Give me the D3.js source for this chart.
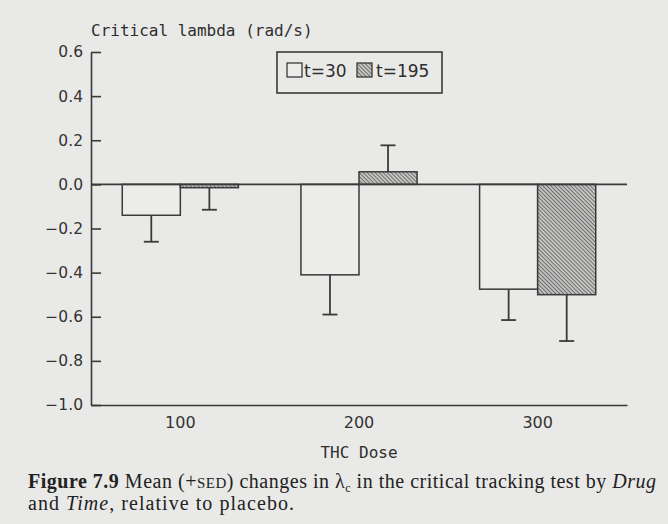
<!DOCTYPE html>
<html><head><meta charset="utf-8">
<script src="https://cdn.jsdelivr.net/npm/d3@7"></script>
<style>
html,body{margin:0;padding:0;background:#e9e9e7;}
svg{display:block;}
</style></head>
<body>
<svg id="chart" width="668" height="524"></svg>
<script>
// ---- data ----
const doses = ["100", "200", "300"];
const seriesNames = ["t=30", "t=195"];
const meanT30 = [-0.14, -0.41, -0.475];
const meanT195 = [-0.015, 0.057, -0.50];
const sedT30 = [0.12, 0.18, 0.14];
const sedT195 = [0.10, 0.12, 0.21];
const yTicks = [0.6, 0.4, 0.2, 0.0, -0.2, -0.4, -0.6, -0.8, -1.0];
const yTitle = "Critical lambda (rad/s)";
const xTitle = "THC Dose";
const caption1 = ["Figure 7.9", " Mean (+", "SED", ") changes in λ", "c", " in the critical tracking test by ", "Drug"];
const caption2 = ["and ", "Time", ", relative to placebo."];

const rows = [];
doses.forEach((d, i) => {
  rows.push({dose: d, series: seriesNames[0], v: meanT30[i], e: sedT30[i]});
  rows.push({dose: d, series: seriesNames[1], v: meanT195[i], e: sedT195[i]});
});

const ink = "#3a3a3a";
const svg = d3.select("#chart");
const bg = "#e9e9e7";
svg.append("rect").attr("width", 668).attr("height", 524).attr("fill", bg);

const defs = svg.append("defs");
const pat = defs.append("pattern").attr("id", "hatch").attr("patternUnits", "userSpaceOnUse")
  .attr("width", 2.8).attr("height", 2.8).attr("patternTransform", "rotate(-45)");
pat.append("rect").attr("width", 2.8).attr("height", 2.8).attr("fill", "#c4c4c2");
pat.append("line").attr("x1", 0).attr("y1", 0).attr("x2", 0).attr("y2", 2.8)
  .attr("stroke", "#444", ).attr("stroke-width", 1.3);

const x0 = d3.scaleBand().domain(doses).range([91, 627]).paddingInner(0.35).paddingOuter(0.175);
const x1 = d3.scaleBand().domain(seriesNames).range([0, x0.bandwidth()]);
const y = d3.scaleLinear().domain([-1.0, 0.6]).range([405, 52]);

const mono = "'DejaVu Sans Mono', monospace";
const sans = "'DejaVu Sans', sans-serif";

// y axis
const yAxis = d3.axisLeft(y).tickValues(yTicks).tickFormat(d3.format(".1f"))
  .tickSize(-10).tickSizeOuter(0).tickPadding(8);
const gy = svg.append("g").attr("transform", "translate(91,0)").call(yAxis);
gy.selectAll("path,line").attr("stroke", ink).attr("stroke-width", 1.6);
gy.selectAll("text").attr("font-family", sans).attr("font-size", 15.5).attr("fill", "#333");

// x axis (bottom)
const xAxis = d3.axisBottom(x0).tickSize(0).tickSizeOuter(0).tickPadding(12);
const gx = svg.append("g").attr("transform", "translate(0,405)").call(xAxis);
gx.select("path").attr("stroke", ink).attr("stroke-width", 1.6);
gx.selectAll("text").attr("font-family", sans).attr("font-size", 16).attr("fill", "#333");

// bars
svg.append("g").selectAll("rect").data(rows).join("rect")
  .attr("x", d => x0(d.dose) + x1(d.series))
  .attr("width", x1.bandwidth())
  .attr("y", d => y(Math.max(0, d.v)))
  .attr("height", d => Math.abs(y(d.v) - y(0)))
  .attr("fill", d => d.series === seriesNames[1] ? "url(#hatch)" : "#ececea")
  .attr("stroke", ink).attr("stroke-width", 1.5);

// zero line
svg.append("line").attr("x1", 91).attr("x2", 627).attr("y1", y(0)).attr("y2", y(0))
  .attr("stroke", ink).attr("stroke-width", 1.6);

// error bars
const eg = svg.append("g").attr("stroke", ink).attr("stroke-width", 1.8);
rows.forEach(d => {
  const cx = x0(d.dose) + x1(d.series) + x1.bandwidth() / 2;
  const end = d.v >= 0 ? d.v + d.e : d.v - d.e;
  eg.append("line").attr("x1", cx).attr("x2", cx).attr("y1", y(d.v)).attr("y2", y(end));
  eg.append("line").attr("x1", cx - 7.5).attr("x2", cx + 7.5).attr("y1", y(end)).attr("y2", y(end));
});

// titles
svg.append("text").attr("x", 91).attr("y", 36).attr("font-family", mono).attr("font-size", 16)
  .attr("fill", "#2e2e2e").text(yTitle);
svg.append("text").attr("x", x0("200") + x0.bandwidth() / 2).attr("y", 458).attr("text-anchor", "middle")
  .attr("font-family", mono).attr("font-size", 16).attr("fill", "#2e2e2e").text(xTitle);

// legend
const lg = svg.append("g");
lg.append("rect").attr("x", 277).attr("y", 52).attr("width", 165).attr("height", 41)
  .attr("fill", "none").attr("stroke", ink).attr("stroke-width", 1.6);
lg.append("rect").attr("x", 287).attr("y", 63).attr("width", 15).attr("height", 14)
  .attr("fill", "#ececea").attr("stroke", ink).attr("stroke-width", 1.3);
lg.append("text").attr("x", 304).attr("y", 77).attr("font-family", sans)
  .attr("font-size", 17).attr("fill", "#2e2e2e").text(seriesNames[0]);
lg.append("rect").attr("x", 357).attr("y", 63).attr("width", 15).attr("height", 14)
  .attr("fill", "url(#hatch)").attr("stroke", ink).attr("stroke-width", 1.3);
lg.append("text").attr("x", 376).attr("y", 77).attr("font-family", sans)
  .attr("font-size", 17).attr("fill", "#2e2e2e").text(seriesNames[1]);

// caption
const serif = "'Liberation Serif', serif";
const c1 = svg.append("text").attr("x", 28).attr("y", 488).attr("font-family", serif)
  .attr("font-size", 20).attr("fill", "#222")
  .attr("textLength", 628).attr("lengthAdjust", "spacing");
caption1.forEach((t, i) => {
  const s = c1.append("tspan").text(t);
  if (i === 0) s.attr("font-weight", "bold");
  if (i === 2) s.attr("font-size", 15);
  if (i === 4) s.attr("font-size", 12).attr("dy", 4);
  if (i === 5) s.attr("dy", -4);
  if (i === 6) s.attr("font-style", "italic");
});
const c2 = svg.append("text").attr("x", 28).attr("y", 510).attr("font-family", serif)
  .attr("font-size", 20).attr("fill", "#222")
  .attr("textLength", 266).attr("lengthAdjust", "spacing");
caption2.forEach((t, i) => {
  const s = c2.append("tspan").text(t);
  if (i === 1) s.attr("font-style", "italic");
});
</script>
</body></html>
